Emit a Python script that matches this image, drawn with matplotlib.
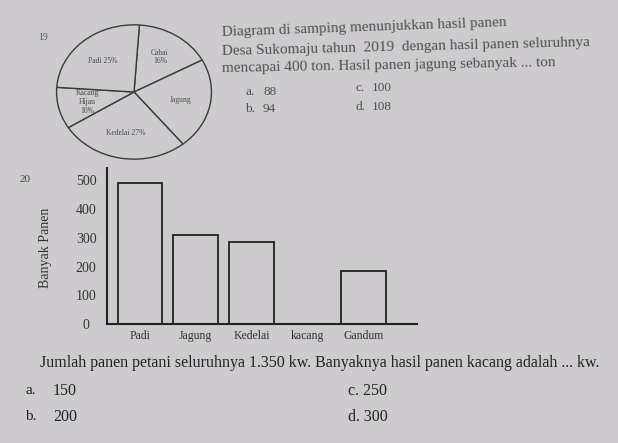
import numpy as np
import matplotlib
matplotlib.use("Agg")
import matplotlib.pyplot as plt

plt.rcParams['font.family'] = ['Liberation Serif', 'DejaVu Serif']

# soal 19 - diagram lingkaran
pie_labels = ['Cabai\n16%', 'Jagung', 'Kedelai 27%', 'Kacang\nHijau\n10%', 'Padi 25%']
pie_values = [16, 22, 27, 10, 25]

# soal 20 - diagram batang
bar_cats = ['Padi', 'Jagung', 'Kedelai', 'kacang', 'Gandum']
bar_vals = [490, 310, 285, 0, 185]
y_ticks = [0, 100, 200, 300, 400, 500]

bg = '#cdcbce'
W, H = 618, 443

fig = plt.figure(figsize=(W / 100, H / 100), dpi=100, facecolor=bg)


def px(x, y):
    return x / W, 1 - y / H


def txt(x, y, s, **kw):
    fx, fy = px(x, y)
    kw.setdefault('va', 'center')
    kw.setdefault('ha', 'left')
    fig.text(fx, fy, s, **kw)


# pie
cx, cy, rw, rh = 134, 92, 158, 137
ax1 = fig.add_axes([(cx - rw / 2) / W, 1 - (cy + rh / 2) / H, rw / W, rh / H])
ax1.set_facecolor(bg)
wedges, texts = ax1.pie(pie_values, labels=pie_labels, startangle=86, counterclock=False,
                        labeldistance=0.62,
                        wedgeprops=dict(facecolor=bg, edgecolor='#3a3a3a', linewidth=1.0),
                        textprops=dict(fontsize=5.5, color='#4a4a4a'))
for t in texts:
    t.set_ha('center')
    t.set_va('center')
    t.set_linespacing(1.1)
ax1.set_aspect('auto')
ax1.set_xlim(-1.02, 1.02)
ax1.set_ylim(-1.02, 1.02)
ax1.axis('off')

txt(38, 38, '19', fontsize=7, color='#555555')

top_col = '#505050'
txt(222, 33, 'Diagram di samping menunjukkan hasil panen', fontsize=11, color=top_col, rotation=2.0,
    rotation_mode='anchor')
txt(222, 52, 'Desa Sukomaju tahun  2019  dengan hasil panen seluruhnya', fontsize=11, color=top_col,
    rotation=1.4, rotation_mode='anchor')
txt(222, 69, 'mencapai 400 ton. Hasil panen jagung sebanyak ... ton', fontsize=11, color=top_col,
    rotation=1.0, rotation_mode='anchor')
txt(245, 92, 'a.', fontsize=9.5, color=top_col)
txt(263, 92, '88', fontsize=9.5, color=top_col)
txt(245, 109, 'b.', fontsize=9.5, color=top_col)
txt(263, 109, '94', fontsize=9.5, color=top_col)
txt(355, 88, 'c.', fontsize=9.5, color=top_col)
txt(372, 88, '100', fontsize=9.5, color=top_col)
txt(355, 107, 'd.', fontsize=9.5, color=top_col)
txt(372, 107, '108', fontsize=9.5, color=top_col)

# bar chart
x0, x1, y0, y1 = 107, 417, 168, 324
ax2 = fig.add_axes([x0 / W, 1 - y1 / H, (x1 - x0) / W, (y1 - y0) / H])
ax2.set_facecolor(bg)
xs = np.arange(len(bar_cats))
ax2.bar(xs, bar_vals, width=0.8, facecolor='none', edgecolor='#222222', linewidth=1.3)
ax2.set_xlim(-0.59, 4.96)
ax2.set_ylim(0, 543)
ax2.set_xticks(xs)
ax2.set_xticklabels(bar_cats, fontsize=8.5, color='#333333')
ax2.set_yticks(y_ticks)
ax2.set_yticklabels([str(v) for v in y_ticks], fontsize=10, color='#333333', ha='center')
ax2.tick_params(axis='y', length=0, pad=15)
ax2.tick_params(axis='x', length=0, pad=4)
for s in ['top', 'right']:
    ax2.spines[s].set_visible(False)
for s in ['left', 'bottom']:
    ax2.spines[s].set_linewidth(1.5)
    ax2.spines[s].set_color('#222222')
ax2.set_ylabel('Banyak Panen', fontsize=10, color='#333333')
ax2.yaxis.set_label_coords(-0.177, 0.487)

txt(20, 180, '20', fontsize=8, color='#444444')

bot_col = '#222222'
txt(40, 363, 'Jumlah panen petani seluruhnya 1.350 kw. Banyaknya hasil panen kacang adalah ... kw.',
    fontsize=11.5, color=bot_col)
txt(25, 391, 'a.', fontsize=11, color=bot_col)
txt(53, 391, '150', fontsize=11.5, color=bot_col)
txt(25, 417, 'b.', fontsize=11, color=bot_col)
txt(53, 417, '200', fontsize=11.5, color=bot_col)
txt(348, 391, 'c. 250', fontsize=11.5, color=bot_col)
txt(348, 417, 'd. 300', fontsize=11.5, color=bot_col)

fig.savefig('out.png', dpi=100, facecolor=bg)
